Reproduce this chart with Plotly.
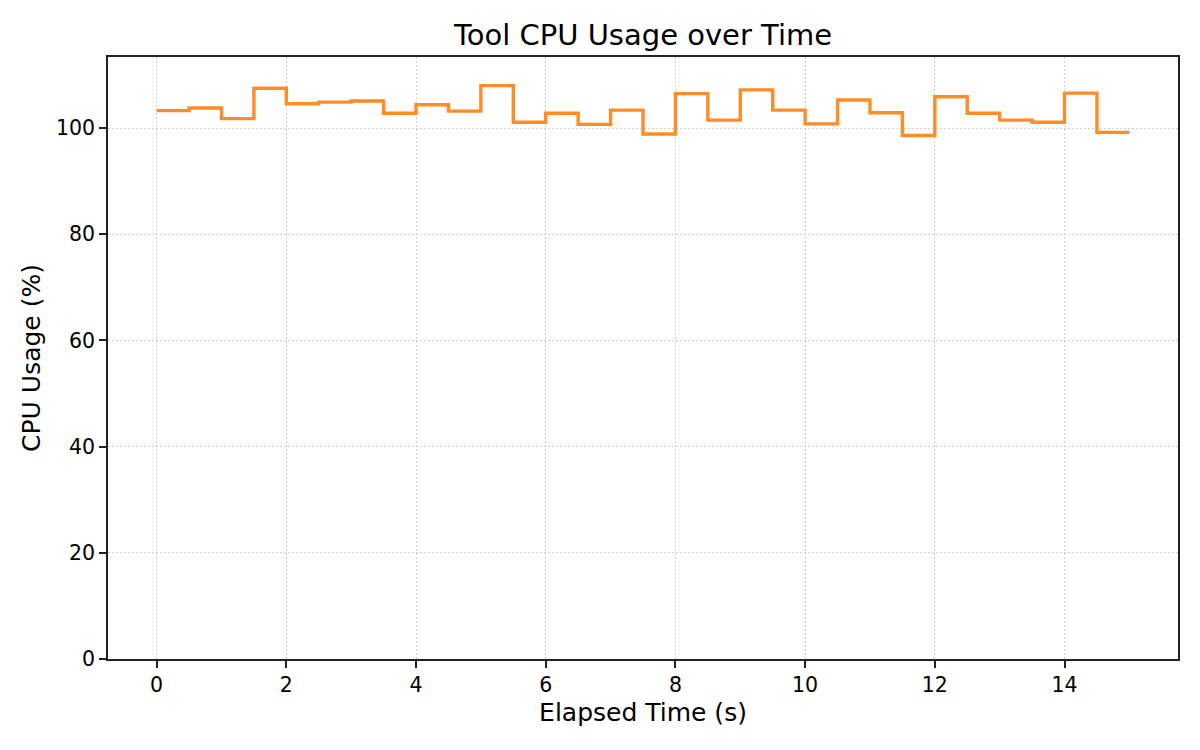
import plotly.graph_objects as go

# elapsed time (s), one sample every 0.5 s
times = [i * 0.5 for i in range(31)]
# CPU usage (%) for each 0.5 s interval; last value repeated to close the step
cpu = [103.3, 103.8, 101.8, 107.5, 104.6, 104.9, 105.1, 102.8, 104.4, 103.2,
       108.0, 101.1, 102.8, 100.7, 103.4, 98.9, 106.5, 101.5, 107.2, 103.4,
       100.8, 105.3, 102.9, 98.6, 105.9, 102.8, 101.5, 101.1, 106.6, 99.2, 99.2]

x_ticks = [0, 2, 4, 6, 8, 10, 12, 14]
y_ticks = [0, 20, 40, 60, 80, 100]

fig = go.Figure()
fig.add_trace(go.Scatter(
    x=times, y=cpu, mode="lines",
    line=dict(shape="hv", color="#ff8c26", width=3.4),
    showlegend=False,
))

axis_style = dict(
    showline=True, linecolor="#222222", linewidth=1.7, mirror=True,
    ticks="outside", ticklen=7, tickwidth=1.7, tickcolor="#222222",
    showgrid=True, gridcolor="#cfcfcf", griddash="1.5px,2.5px", gridwidth=1.2,
    zeroline=False, tickfont=dict(size=20.5, color="black"),
)

fig.update_layout(
    width=1200, height=750,
    paper_bgcolor="white", plot_bgcolor="white",
    font=dict(family="DejaVu Sans", color="black"),
    margin=dict(l=100, r=30, t=49, b=99),
    # title centred over the plot area, like matplotlib does
    title=dict(text="Tool CPU Usage over Time", xref="paper", x=0.5, xanchor="center",
               y=1 - 27 / 750, yanchor="middle", font=dict(size=29)),
)
fig.update_xaxes(axis_style, range=[-0.75, 15.75], tickvals=x_ticks,
                 title=dict(text="Elapsed Time (s)", font=dict(size=25), standoff=7))
fig.update_yaxes(axis_style, range=[0, 113.4], tickvals=y_ticks,
                 title=dict(text="CPU Usage (%)", font=dict(size=25), standoff=8))

fig.write_html("out.html")
